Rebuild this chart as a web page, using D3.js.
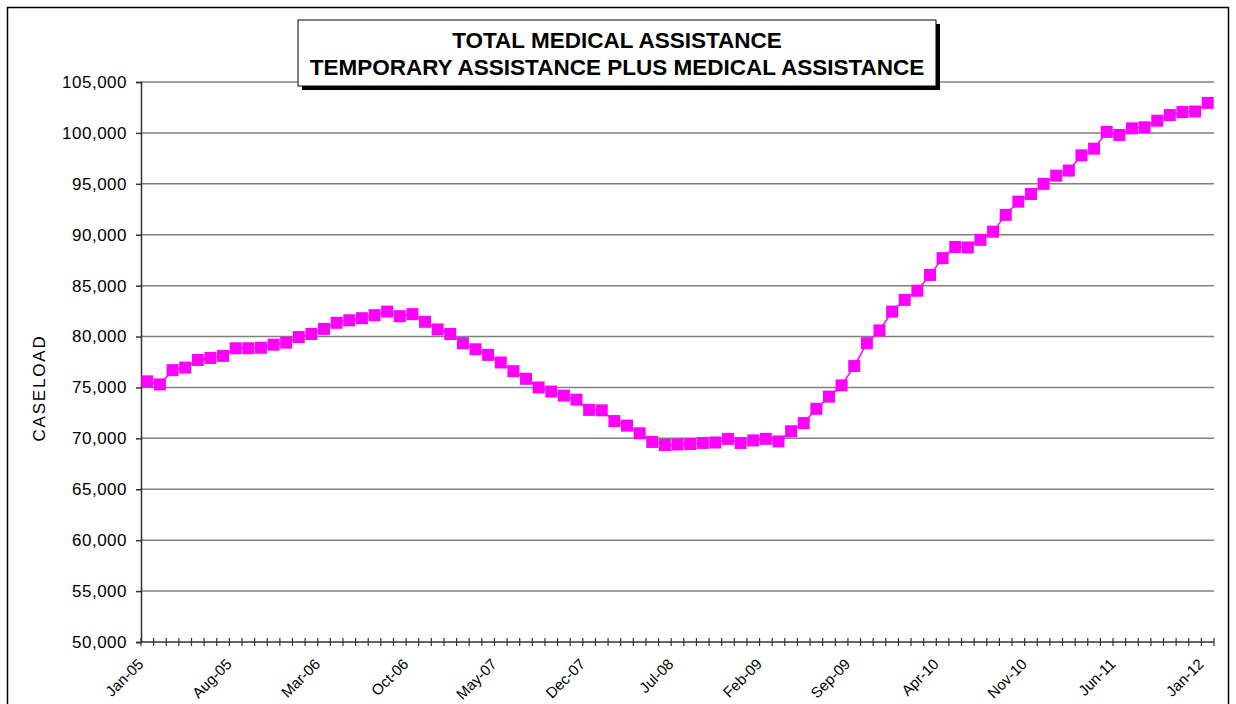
<!DOCTYPE html>
<html>
<head>
<meta charset="utf-8">
<script src="https://cdn.jsdelivr.net/npm/d3@7"></script>
<style>
  body { margin: 0; background: #fff; }
  text { font-family: "Liberation Sans", Arial, sans-serif; }
</style>
</head>
<body>
<div id="chart"></div>
<script>
// chart data: monthly caseload, Jan-05 .. Jan-12
var titleLines = ["TOTAL MEDICAL ASSISTANCE", "TEMPORARY ASSISTANCE PLUS MEDICAL ASSISTANCE"];
var yLabel = "CASELOAD";

var months = d3.timeMonths(new Date(2005, 0, 1), new Date(2012, 1, 1));
var fmtMonth = d3.timeFormat("%b-%y");

var caseload = [
    75600, 75300, 76700, 76950, 77700, 77900, 78100, 78850, 78850, 78900,
    79200, 79400, 79950, 80250, 80750, 81350, 81600, 81800, 82100, 82450,
    82000, 82200, 81450, 80700, 80250, 79350, 78750, 78200, 77450, 76600,
    75850, 75000, 74600, 74200, 73800, 72800, 72750, 71700, 71250, 70500,
    69650, 69350, 69400, 69450, 69550, 69600, 69950, 69550, 69800, 69950,
    69700, 70700, 71500, 72900, 74100, 75200, 77100, 79350, 80600, 82450,
    83600, 84500, 86050, 87700, 88800, 88750, 89500, 90300, 91950, 93250,
    94000, 95000, 95800, 96300, 97800, 98450, 100100, 99800, 100450, 100550,
    101200, 101750, 102050, 102100, 102950
];

var tickLabels = ["Jan-05", "Aug-05", "Mar-06", "Oct-06", "May-07", "Dec-07", "Jul-08",
    "Feb-09", "Sep-09", "Apr-10", "Nov-10", "Jun-11", "Jan-12"];

var yTicks = [50000, 55000, 60000, 65000, 70000, 75000, 80000, 85000, 90000, 95000, 100000, 105000];

//standard attributes
var outerWidth = 1236;
var outerHeight = 704;
var plot = { left: 141, right: 1214, top: 82, bottom: 642 };

var svg = d3.select("#chart").append("svg")
    .attr("width", outerWidth)
    .attr("height", outerHeight);

// outer frame
svg.append("rect")
    .attr("x", 7.5).attr("y", 7.5)
    .attr("width", 1221).attr("height", 710)
    .attr("fill", "#fff")
    .attr("stroke", "#000")
    .attr("stroke-width", 1.5);

//scales
var x = d3.scaleBand()
    .domain(d3.range(caseload.length))
    .range([plot.left, plot.right])
    .padding(0);

var y = d3.scaleLinear()
    .domain([50000, 105000])
    .range([plot.bottom, plot.top]);

function cx(i) { return x(i) + x.bandwidth() / 2; }

// gridlines
svg.append("g")
    .selectAll("line")
    .data(yTicks.slice(1))
    .enter().append("line")
    .attr("x1", plot.left).attr("x2", plot.right)
    .attr("y1", function (d) { return y(d); })
    .attr("y2", function (d) { return y(d); })
    .attr("stroke", "#808080")
    .attr("stroke-width", 1.5);

// y axis
var yAxis = d3.axisLeft(y)
    .tickValues(yTicks)
    .tickFormat(d3.format(","))
    .tickSize(5)
    .tickPadding(9);

var gy = svg.append("g")
    .attr("transform", "translate(" + plot.left + ",0)")
    .call(yAxis);
gy.select(".domain").attr("stroke", "#333").attr("stroke-width", 1.5);
gy.selectAll(".tick line").attr("stroke", "#333").attr("stroke-width", 1.5);
gy.selectAll(".tick text")
    .attr("font-size", "17px")
    .attr("letter-spacing", "0.5px")
    .attr("fill", "#000")
    .attr("font-family", "Liberation Sans, Arial, sans-serif");

// x axis line + cross tick marks at category boundaries
svg.append("line")
    .attr("x1", plot.left).attr("x2", plot.right)
    .attr("y1", plot.bottom).attr("y2", plot.bottom)
    .attr("stroke", "#333").attr("stroke-width", 1.5);

var bounds = d3.range(caseload.length + 1);
svg.append("g")
    .selectAll("line")
    .data(bounds)
    .enter().append("line")
    .attr("x1", function (d) { return d < caseload.length ? x(d) : x(d - 1) + x.bandwidth(); })
    .attr("x2", function (d) { return d < caseload.length ? x(d) : x(d - 1) + x.bandwidth(); })
    .attr("y1", plot.bottom - 4)
    .attr("y2", plot.bottom + 4)
    .attr("stroke", "#333")
    .attr("stroke-width", 1.2);

// x labels
svg.append("g")
    .selectAll("text")
    .data(d3.range(caseload.length).filter(function (i) { return tickLabels.indexOf(fmtMonth(months[i])) >= 0; }))
    .enter().append("text")
    .attr("transform", function (i) { return "translate(" + (cx(i) - 3) + "," + (plot.bottom + 23) + ") rotate(-45)"; })
    .attr("text-anchor", "end")
    .attr("font-size", "15px")
    .attr("fill", "#000")
    .text(function (i) { return fmtMonth(months[i]); });

// y label
svg.append("text")
    .attr("transform", "translate(45,388) rotate(-90)")
    .attr("text-anchor", "middle")
    .attr("font-size", "17px")
    .attr("letter-spacing", "1.8px")
    .attr("fill", "#000")
    .text(yLabel);

// series line
var line = d3.line()
    .x(function (d, i) { return cx(i); })
    .y(function (d) { return y(d); });

svg.append("path")
    .datum(caseload)
    .attr("d", line)
    .attr("fill", "none")
    .attr("stroke", "#FF00FF")
    .attr("stroke-width", 1.5);

svg.append("g")
    .selectAll("rect")
    .data(caseload)
    .enter().append("rect")
    .attr("x", function (d, i) { return cx(i) - 6; })
    .attr("y", function (d) { return y(d) - 6; })
    .attr("width", 12)
    .attr("height", 12)
    .attr("fill", "#FF00FF");

// title box with shadow
var tb = { x: 298, y: 20, w: 638, h: 66 };
svg.append("rect")
    .attr("x", tb.x + 4).attr("y", tb.y + 4)
    .attr("width", tb.w).attr("height", tb.h)
    .attr("fill", "#000");
svg.append("rect")
    .attr("x", tb.x).attr("y", tb.y)
    .attr("width", tb.w).attr("height", tb.h)
    .attr("fill", "#fff")
    .attr("stroke", "#000")
    .attr("stroke-width", 1);

svg.append("g")
    .selectAll("text")
    .data(titleLines)
    .enter().append("text")
    .attr("x", tb.x + tb.w / 2)
    .attr("y", function (d, i) { return 48 + i * 27; })
    .attr("text-anchor", "middle")
    .attr("font-size", "22.5px")
    .attr("font-weight", "bold")
    .attr("fill", "#000")
    .text(function (d) { return d; });
</script>
</body>
</html>
